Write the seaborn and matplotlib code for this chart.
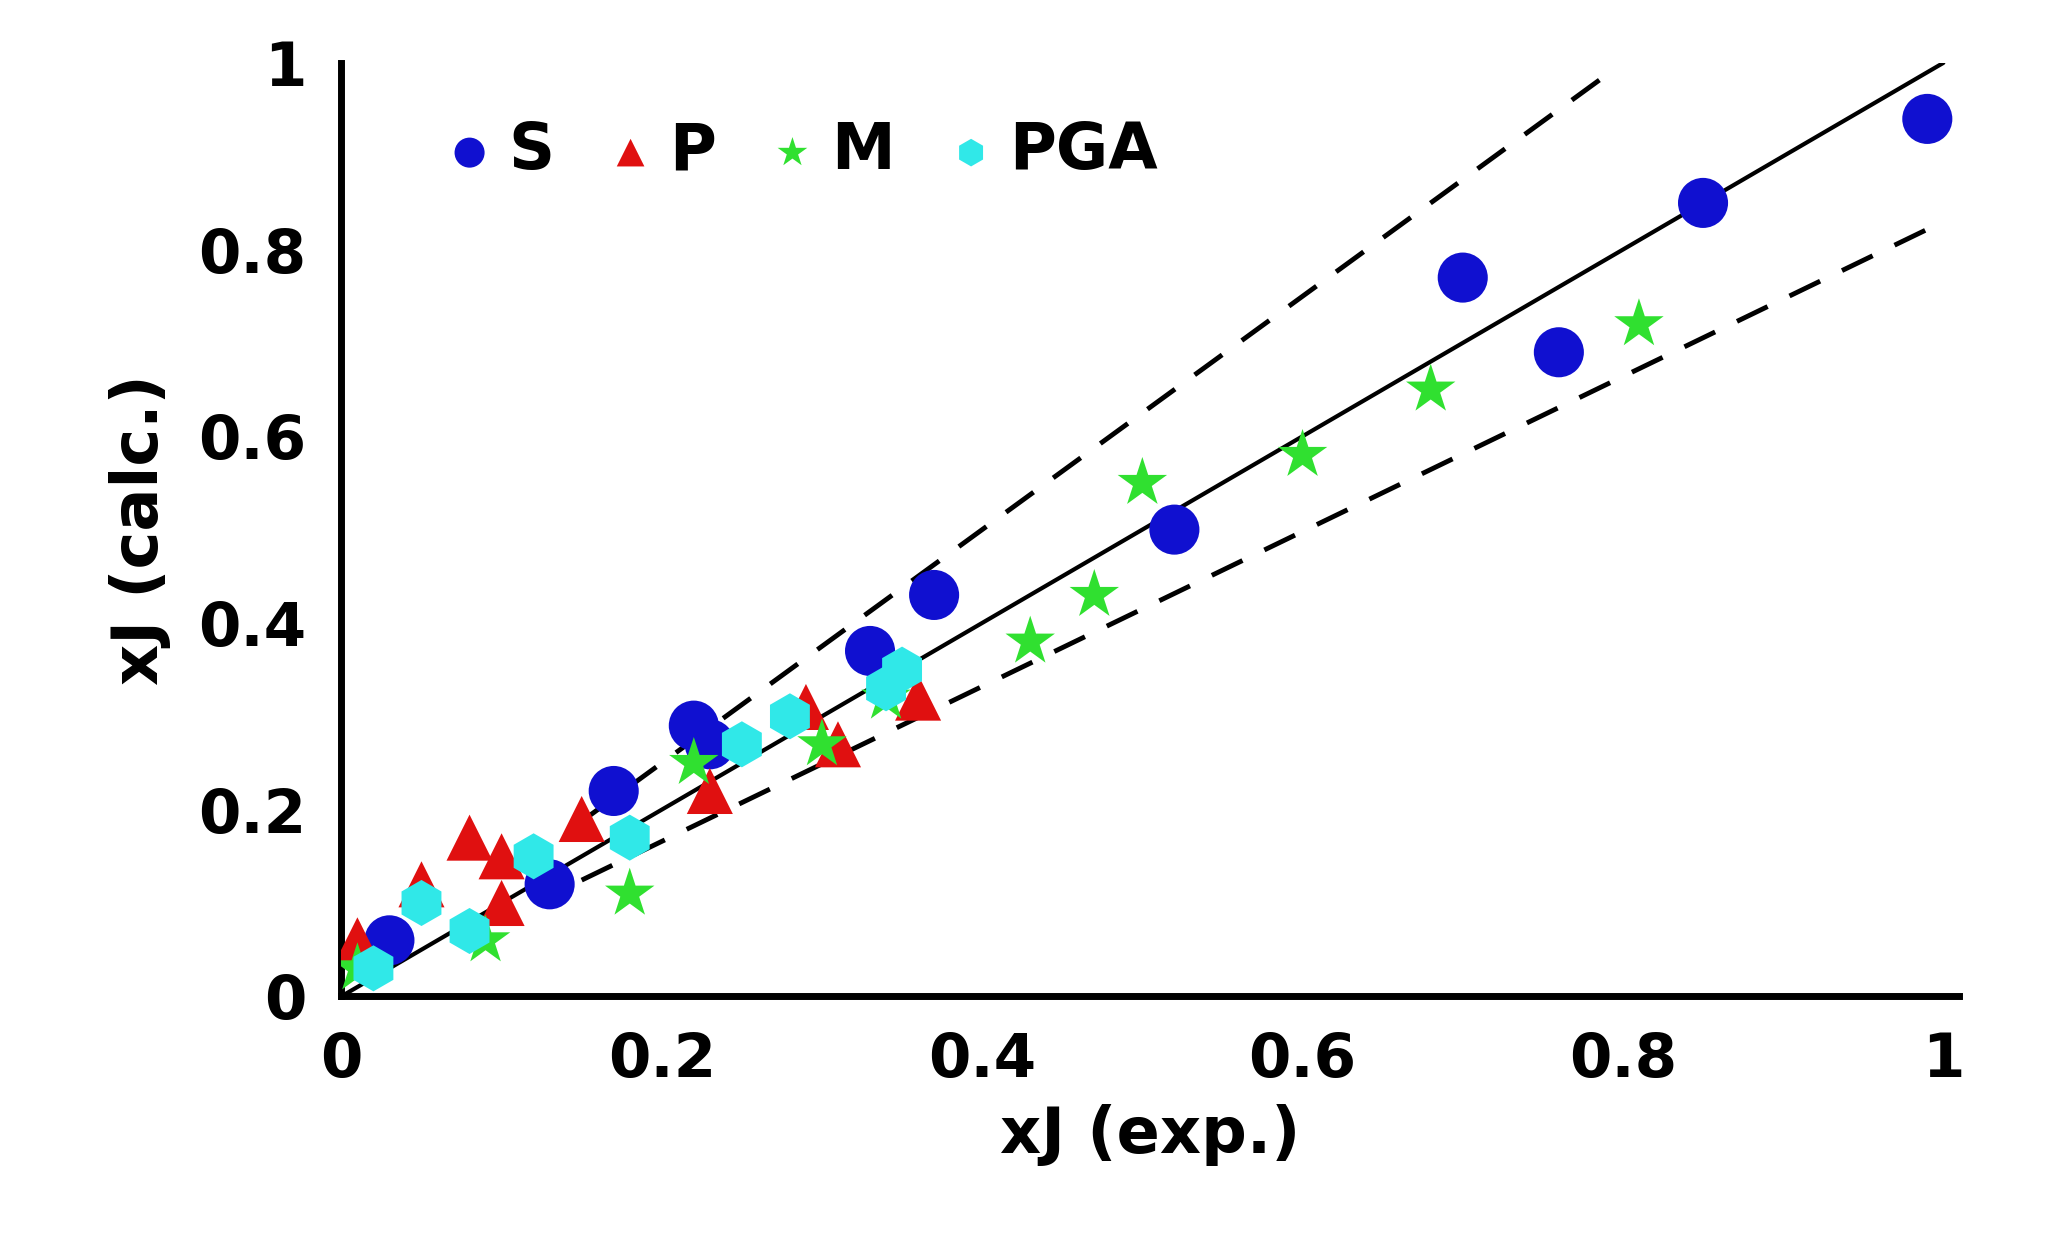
import numpy as np
import pandas as pd
import seaborn as sns
import matplotlib.pyplot as plt

# values
s_x = [0.03, 0.13, 0.17, 0.22, 0.23, 0.33, 0.37, 0.52, 0.70, 0.76, 0.85, 0.99]
s_y = [0.06, 0.12, 0.22, 0.29, 0.27, 0.37, 0.43, 0.50, 0.77, 0.69, 0.85, 0.94]
p_x = [0.01, 0.05, 0.08, 0.10, 0.10, 0.15, 0.23, 0.29, 0.31, 0.36]
p_y = [0.06, 0.12, 0.17, 0.15, 0.10, 0.19, 0.22, 0.31, 0.27, 0.32]
m_x = [0.01, 0.09, 0.18, 0.22, 0.30, 0.34, 0.43, 0.47, 0.50, 0.60, 0.68, 0.81]
m_y = [0.03, 0.06, 0.11, 0.25, 0.27, 0.32, 0.38, 0.43, 0.55, 0.58, 0.65, 0.72]
g_x = [0.02, 0.05, 0.08, 0.12, 0.18, 0.25, 0.28, 0.34, 0.35]
g_y = [0.03, 0.10, 0.07, 0.15, 0.17, 0.27, 0.30, 0.33, 0.35]

df = pd.concat([
    pd.DataFrame({'x': s_x, 'y': s_y, 'set': 'S'}),
    pd.DataFrame({'x': p_x, 'y': p_y, 'set': 'P'}),
    pd.DataFrame({'x': m_x, 'y': m_y, 'set': 'M'}),
    pd.DataFrame({'x': g_x, 'y': g_y, 'set': 'PGA'}),
])

sns.set_style('white')
plt.rcParams['font.family'] = ['DejaVu Sans']
plt.rcParams['text.color'] = 'black'
plt.rcParams['axes.labelcolor'] = 'black'
plt.rcParams['xtick.color'] = 'black'
plt.rcParams['ytick.color'] = 'black'
fig = plt.figure(figsize=(20.69, 12.58), dpi=100)
ax = fig.add_axes([0.165, 0.208, 0.782, 0.742])

ax.plot([0, 1], [0, 1], color='black', lw=3)
ax.plot([0.15, 0.79], [0.15 * 1.25, 0.79 * 1.25], color='black', lw=3.5, ls=(0, (7, 5)))
ax.plot([0.15, 1.0], [0.15 * 0.83, 0.83], color='black', lw=3.5, ls=(0, (7, 5)))

pal = {'S': '#1010d0', 'P': '#e01010', 'M': '#30e030', 'PGA': '#30e8e8'}
mk = {'S': 'o', 'P': '^', 'M': '*', 'PGA': 'h'}
sizes = {'S': 1300, 'P': 1100, 'M': 1400, 'PGA': 1100}
for name in ['S', 'P', 'M', 'PGA']:
    sub = df[df['set'] == name]
    sns.scatterplot(data=sub, x='x', y='y', color=pal[name], marker=mk[name],
                    s=sizes[name], edgecolor='none', ax=ax, zorder=3, label=name)

ax.set_xlim(0, 1.01)
ax.set_ylim(0, 1.0)
ticks = [0, 0.2, 0.4, 0.6, 0.8, 1]
labels = ['0', '0.2', '0.4', '0.6', '0.8', '1']
ax.set_xticks(ticks, labels)
ax.set_yticks(ticks, labels)
ax.tick_params(direction='in', length=12, width=3, labelsize=44, pad=25)
for t in ax.get_xticklabels() + ax.get_yticklabels():
    t.set_fontweight('bold')
for sp in ['top', 'right']:
    ax.spines[sp].set_visible(False)
for sp in ['left', 'bottom']:
    ax.spines[sp].set_linewidth(5)
    ax.spines[sp].set_color('black')
ax.set_xlabel('xJ (exp.)', fontsize=46, fontweight='bold', labelpad=10)
ax.set_ylabel('xJ (calc.)', fontsize=46, fontweight='bold', labelpad=20)

leg = ax.legend(loc='upper left', ncol=4, frameon=False, fontsize=46,
                handletextpad=0.0, columnspacing=0.6, markerscale=0.6,
                handlelength=1.2, bbox_to_anchor=(0.02, 1.0))
for t in leg.get_texts():
    t.set_fontweight('bold')

fig.savefig('out.png', dpi=100, facecolor='white')
